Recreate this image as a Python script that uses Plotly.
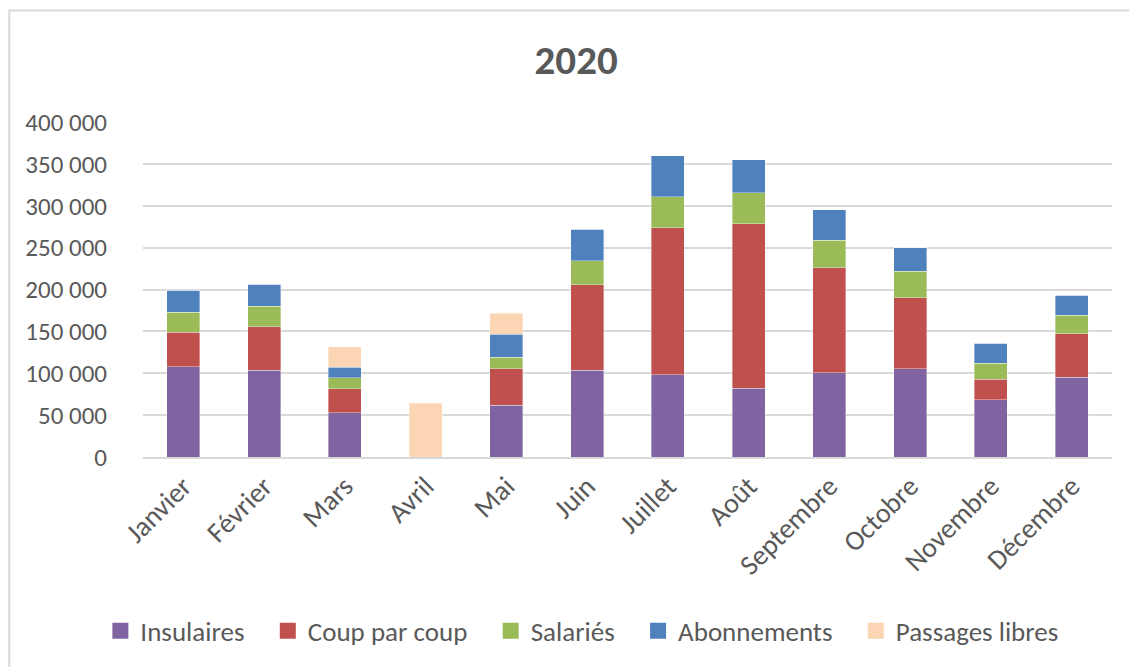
import plotly.graph_objects as go

months = ["Janvier", "Février", "Mars", "Avril", "Mai", "Juin", "Juillet",
          "Août", "Septembre", "Octobre", "Novembre", "Décembre"]

insulaires = [107600, 103300, 53100, 0, 61500, 103300, 98500, 81800, 100900, 105300, 68600, 95000]
coup_par_coup = [41200, 52200, 28200, 0, 43800, 102400, 175400, 196500, 125100, 84900, 24000, 52100]
salaries = [24200, 24400, 13200, 0, 13600, 28700, 37100, 37400, 32800, 31500, 19500, 22400]
abonnements = [26400, 26300, 12800, 0, 27800, 37500, 48600, 39100, 36600, 27900, 23900, 23500]
passages_libres = [0, 0, 24300, 63900, 24800, 0, 0, 0, 0, 0, 0, 0]

series = [
    ("Insulaires", insulaires, "#8064A2"),
    ("Coup par coup", coup_par_coup, "#C0504D"),
    ("Salariés", salaries, "#9BBB59"),
    ("Abonnements", abonnements, "#4F81BD"),
    ("Passages libres", passages_libres, "#FCD5B5"),
]

FONT = "Carlito, Calibri, 'Liberation Sans Narrow', 'Open Sans', sans-serif"
TEXT = "#595959"
PAD = "\u00a0" * 3

fig = go.Figure()
for name, vals, color in series:
    fig.add_trace(
        go.Bar(
            x=months,
            y=vals,
            name=name,
            showlegend=False,
            marker=dict(color=color, line=dict(color="rgba(255,255,255,0.6)", width=0.6)),
        )
    )

# entrées de légende avec de vrais carrés (plus gros que ceux des barres)
for name, vals, color in series:
    fig.add_trace(
        go.Scatter(
            x=[None],
            y=[None],
            mode="markers",
            name=name + PAD,
            marker=dict(symbol="square", size=16, color=color),
            hoverinfo="skip",
        )
    )

# la page a une marge de 8px : on décale la figure en conséquence
fig.update_layout(
    barmode="stack",
    bargap=0.59,
    width=1129,
    height=659,
    separators=", ",
    plot_bgcolor="white",
    paper_bgcolor="white",
    font=dict(family=FONT, size=25, color=TEXT),
    title=dict(
        text="<b>2020</b>",
        x=0.447,
        xref="paper",
        xanchor="center",
        y=0.921,
        yanchor="middle",
        font=dict(family=FONT, size=41, color=TEXT),
    ),
    margin=dict(l=135, r=25, t=114, b=210),
    legend=dict(
        orientation="h",
        x=-0.044,
        xanchor="left",
        y=-0.52,
        yanchor="middle",
        font=dict(family=FONT, size=27, color=TEXT),
        traceorder="normal",
        itemclick=False,
        itemdoubleclick=False,
    ),
    shapes=[
        dict(
            type="rect",
            xref="paper",
            yref="paper",
            x0=-0.138,
            x1=1.2,
            y0=-0.8,
            y1=1.333,
            line=dict(color="#d9d9d9", width=2),
            fillcolor="rgba(0,0,0,0)",
            layer="below",
        )
    ],
)

fig.update_xaxes(
    tickangle=-45,
    tickfont=dict(family=FONT, size=28, color=TEXT),
    showgrid=False,
    showline=True,
    linecolor="#d9d9d9",
    linewidth=1.5,
    ticks="",
)

fig.update_yaxes(
    range=[0, 400000],
    dtick=50000,
    tickformat=",d",
    tickfont=dict(family=FONT, size=25, color=TEXT),
    showgrid=True,
    gridcolor="#d9d9d9",
    gridwidth=1.5,
    zeroline=False,
    showline=False,
    ticks="outside",
    ticklen=30,
    tickcolor="white",
)

fig.write_html("out.html")
